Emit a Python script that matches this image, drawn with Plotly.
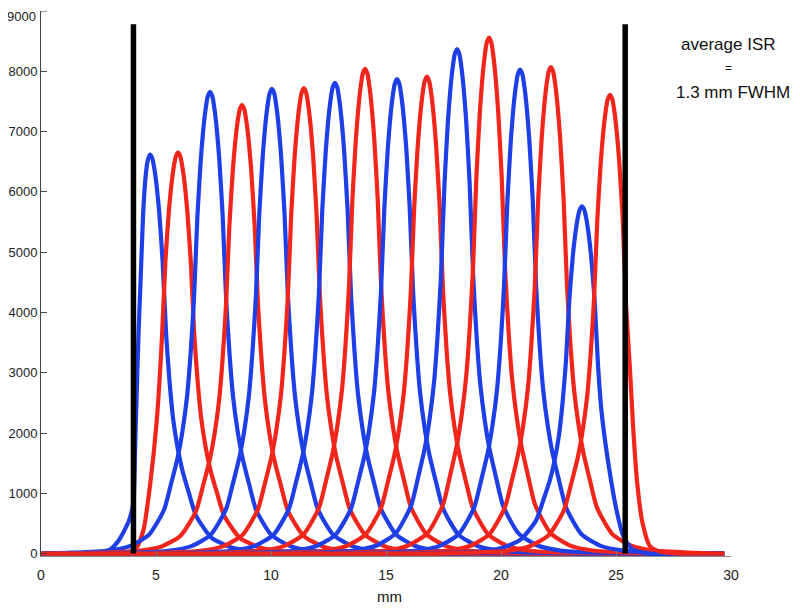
import plotly.graph_objects as go

# ---- data ----
blue_centers_mm = [4.74, 7.35, 10.04, 12.78, 15.48, 18.09, 20.83, 23.52]
blue_peaks = [6620, 7660, 7710, 7810, 7870, 8370, 8030, 5760]
red_centers_mm = [5.96, 8.74, 11.43, 14.09, 16.78, 19.48, 22.17, 24.74]
red_peaks = [6650, 7440, 7720, 8040, 7910, 8560, 8070, 7610]

# common (interior) peak profile: distance from centre (mm) -> fraction of peak
core_offset_mm = [0.0, 0.1, 0.2, 0.3, 0.4, 0.55, 0.7, 0.85, 1.0, 1.2, 1.4, 1.7, 2.0, 2.67, 3.5, 4.5, 6.0, 8.0]
core_rel = [1.0, 0.99, 0.96, 0.915, 0.855, 0.73, 0.55, 0.43, 0.34, 0.265, 0.21, 0.15, 0.095, 0.04, 0.016, 0.006, 0.002, 0.0]

# outer flanks of the peaks next to the crystal edges
first_blue_left_offset = [0.0, 0.1, 0.2, 0.3, 0.4, 0.5, 0.58, 0.65, 0.72, 0.9, 1.16, 1.4, 1.74, 2.2, 3.0]
first_blue_left_rel = [1.0, 0.985, 0.94, 0.85, 0.70, 0.55, 0.40, 0.26, 0.13, 0.085, 0.053, 0.03, 0.01, 0.003, 0.0]
first_red_left_offset = [0.0, 0.1, 0.2, 0.3, 0.4, 0.55, 0.7, 0.93, 1.22, 1.5, 1.8, 2.2, 3.0]
first_red_left_rel = [1.0, 0.99, 0.96, 0.915, 0.855, 0.73, 0.54, 0.33, 0.17, 0.06, 0.015, 0.003, 0.0]
last_blue_right_offset = [0.0, 0.1, 0.2, 0.3, 0.4, 0.55, 0.7, 0.85, 1.08, 1.5, 1.8, 2.2, 3.0]
last_blue_right_rel = [1.0, 0.99, 0.96, 0.915, 0.855, 0.73, 0.54, 0.41, 0.29, 0.126, 0.05, 0.012, 0.0]
last_red_right_offset = [0.0, 0.1, 0.2, 0.3, 0.4, 0.55, 0.7, 0.87, 1.0, 1.17, 1.4, 1.74, 2.2, 3.0]
last_red_right_rel = [1.0, 0.99, 0.96, 0.915, 0.855, 0.73, 0.54, 0.40, 0.28, 0.16, 0.07, 0.016, 0.004, 0.0]

scan_range_mm = [0.0, 29.7]
crystal_edges_mm = [4.02, 25.4]
edge_marker_height = 8780

x_ticks = [0, 5, 10, 15, 20, 25, 30]
y_ticks = [0, 1000, 2000, 3000, 4000, 5000, 6000, 7000, 8000, 9000]
y_tick_labels = ["0", "1000", "2000", "3000", "4000", "5000", "6000", "7000", "8000", "9000"]

BLUE = "#1f3fe6"
RED = "#f0261c"


def build_curve(center, peak, left_off, left_rel, right_off, right_rel):
    xs = [center - o for o in reversed(left_off)] + [center + o for o in right_off[1:]]
    ys = [peak * r for r in reversed(left_rel)] + [peak * r for r in right_rel[1:]]
    pts = [(x, y) for x, y in zip(xs, ys) if scan_range_mm[0] <= x <= scan_range_mm[1]]
    if pts[0][0] > scan_range_mm[0]:
        pts.insert(0, (scan_range_mm[0], 0.0))
    if pts[-1][0] < scan_range_mm[1]:
        pts.append((scan_range_mm[1], 0.0))
    return [p[0] for p in pts], [p[1] for p in pts]


peaks = []
for i, (c, h) in enumerate(zip(blue_centers_mm, blue_peaks)):
    lo, lr, ro, rr = core_offset_mm, core_rel, core_offset_mm, core_rel
    if i == 0:
        lo, lr = first_blue_left_offset, first_blue_left_rel
    if i == len(blue_centers_mm) - 1:
        ro, rr = last_blue_right_offset, last_blue_right_rel
    peaks.append((c, h, BLUE, lo, lr, ro, rr))
for i, (c, h) in enumerate(zip(red_centers_mm, red_peaks)):
    lo, lr, ro, rr = core_offset_mm, core_rel, core_offset_mm, core_rel
    if i == 0:
        lo, lr = first_red_left_offset, first_red_left_rel
    if i == len(red_centers_mm) - 1:
        ro, rr = last_red_right_offset, last_red_right_rel
    peaks.append((c, h, RED, lo, lr, ro, rr))
peaks.sort(key=lambda p: p[0])

fig = go.Figure()
for c, h, col, lo, lr, ro, rr in peaks:
    xs, ys = build_curve(c, h, lo, lr, ro, rr)
    fig.add_trace(go.Scatter(x=xs, y=ys, mode="lines",
                             line=dict(color=col, width=4.2, shape="spline", smoothing=0.6),
                             hoverinfo="skip", showlegend=False))

for xe in crystal_edges_mm:
    fig.add_trace(go.Scatter(x=[xe, xe], y=[0, edge_marker_height], mode="lines",
                             line=dict(color="black", width=5.5),
                             hoverinfo="skip", showlegend=False))

FONT = "Liberation Sans, Arial, sans-serif"
x_tick_font = dict(family=FONT, size=14, color="#222")
y_tick_font = dict(family=FONT, size=13, color="#222")

# the page shows the figure offset by the default 8 px body margin,
# so the figure is 792x601 with margins chosen for plot area at page x 41..731, y 11..556
fig.update_layout(
    width=792, height=601,
    margin=dict(l=33, r=69, t=3, b=53, autoexpand=False),
    paper_bgcolor="white", plot_bgcolor="white",
    showlegend=False,
    xaxis=dict(range=[0, 30], tickvals=x_ticks, ticks="inside", ticklen=5,
               tickcolor="#777", showline=True, linecolor="#888", linewidth=1,
               showgrid=False, zeroline=False, tickfont=x_tick_font,
               ticklabelstandoff=6, automargin=False),
    yaxis=dict(range=[-40, 9000], tickvals=y_ticks[:-1], ticktext=y_tick_labels[:-1],
               ticks="inside", ticklen=6,
               tickcolor="#444", showline=True, linecolor="#444", linewidth=1,
               showgrid=False, zeroline=False, tickfont=y_tick_font,
               ticklabelstandoff=0, automargin=False),
)
# top y tick (mark + label) – label kept inside the figure's top edge
fig.add_shape(type="line", xref="paper", yref="y", x0=0, x1=6 / 690, y0=y_ticks[-1], y1=y_ticks[-1],
              line=dict(color="#444", width=1))
fig.add_annotation(x=-3 / 690, y=1, xref="paper", yref="paper", text=y_tick_labels[-1],
                   showarrow=False, font=y_tick_font, xanchor="right", yanchor="top", yshift=4)

ann_font = dict(family=FONT, size=17, color="#111")
fig.add_annotation(x=0.997, y=0.938, xref="paper", yref="paper", text="average ISR",
                   showarrow=False, font=ann_font, xanchor="center", yanchor="middle")
fig.add_annotation(x=0.997, y=0.896, xref="paper", yref="paper", text="=",
                   showarrow=False, font=dict(ann_font, size=12), xanchor="center", yanchor="middle")
fig.add_annotation(x=1.003, y=0.850, xref="paper", yref="paper", text="1.3 mm FWHM",
                   showarrow=False, font=ann_font, xanchor="center", yanchor="middle")
fig.add_annotation(x=0.505, y=-0.075, xref="paper", yref="paper", text="mm", showarrow=False,
                   font=dict(family=FONT, size=15, color="#111"),
                   xanchor="center", yanchor="middle")

fig.write_html("out.html")
